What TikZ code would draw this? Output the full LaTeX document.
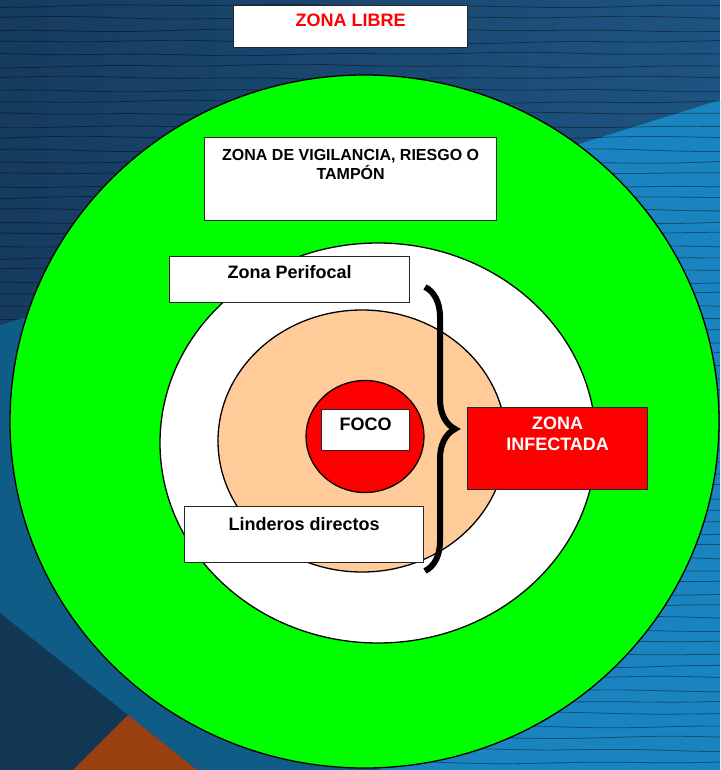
\documentclass[tikz,border=0pt]{standalone}
\usepackage{fontspec}
\setmainfont{Liberation Sans}
\usetikzlibrary{positioning,decorations.pathreplacing}

\definecolor{navyleft}{HTML}{163C5F}
\definecolor{navyright}{HTML}{1E5482}
\definecolor{skyband}{HTML}{1A84C0}
\definecolor{midblue}{HTML}{0F5C87}
\definecolor{darkwedge}{HTML}{133856}
\definecolor{rust}{HTML}{9A4112}
\definecolor{bufgreen}{HTML}{00FF00}
\definecolor{peach}{HTML}{FFCC99}

\tikzset{
  ring/.style={draw=black, line width=1.3pt},
  zonebox/.style={draw=black!85, line width=1.3pt, fill=white, inner sep=0pt, anchor=north west},
  zonetext/.style={font=\bfseries\fontsize{18}{21}\selectfont, anchor=north, align=center, inner sep=0pt},
  waveline/.style={black, opacity=0.4, line width=0.8pt},
}

\begin{document}
\begin{tikzpicture}[x=1pt,y=-1pt]
  \useasboundingbox (0,0) rectangle (720,770);

  % background
  \fill[midblue] (0,0) rectangle (720,770);
  \shade[left color=navyleft, right color=navyright] (0,0) -- (720,0) -- (720,100) -- (0,325) -- cycle;
  \fill[skyband] (720,100) -- (360,212.5) -- (380,770) -- (720,770) -- cycle;
  \begin{scope}
    \clip (0,0) -- (720,0) -- (720,770) -- (380,770) -- (360,212.5) -- (0,325) -- cycle;
    \foreach \ly [count=\i] in {6,18,...,770}
      \draw[waveline] plot[smooth, domain=0:720, samples=30]
        (\x, {\ly + 1.1*sin(0.6*\x + 137*\i) + 0.7*sin(1.9*\x + 71*\i)});
  \end{scope}
  \fill[darkwedge] (0,613) -- (197,770) -- (0,770) -- cycle;
  \fill[rust] (128,715) -- (197,770) -- (73,770) -- cycle;

  % zones
  \draw[ring, fill=bufgreen] (364.5,421.5) ellipse [x radius=354.5, y radius=346.5];
  \draw[ring, fill=white] (378,443) ellipse [x radius=218, y radius=200];
  \draw[ring, fill=peach] (362,441) ellipse [x radius=144, y radius=131];
  \draw[ring, fill=red] (365,436.5) ellipse [x radius=59, y radius=56];

  % labels
  \node[zonebox, minimum width=234pt, minimum height=42pt] (libre) at (233,5) {};
  \node[zonetext, text=red] (librelabel) at ([yshift=-9pt]libre.north) {ZONA LIBRE};

  \node[zonebox, minimum width=292pt, minimum height=83pt] (vigil) at (204,137) {};
  \node[zonetext, font=\bfseries\fontsize{16}{19}\selectfont] (vigillabel) at ([yshift=-12.5pt]vigil.north)
    {ZONA DE VIGILANCIA, RIESGO O\\TAMPÓN};

  \node[zonebox, minimum width=240pt, minimum height=46pt] (perif) at (169,256) {};
  \node[zonetext] (periflabel) at ([yshift=-9pt]perif.north) {Zona Perifocal};

  \node[zonebox, minimum width=239pt, minimum height=56pt] (linderos) at (184,506) {};
  \node[zonetext] (linceroslabel) at ([yshift=-11pt]linderos.north) {Linderos directos};

  \node[zonebox, minimum width=88pt, minimum height=41pt] (foco) at (321,409) {};
  \node[zonetext] (focolabel) at ([yshift=-9pt]foco.north) {FOCO};

  \node[zonebox, fill=red, minimum width=180pt, minimum height=82pt] (infect) at (467,407) {};
  \node[zonetext, text=white] (infectlabel) at ([yshift=-10pt]infect.north) {ZONA\\INFECTADA};

  % brace
  \coordinate (bracetop) at (425,287);
  \coordinate (bracebot) at (425,571);
  \draw[line width=6pt, decorate, decoration={brace, amplitude=30pt}] (bracetop) -- (bracebot);
\end{tikzpicture}
\end{document}
